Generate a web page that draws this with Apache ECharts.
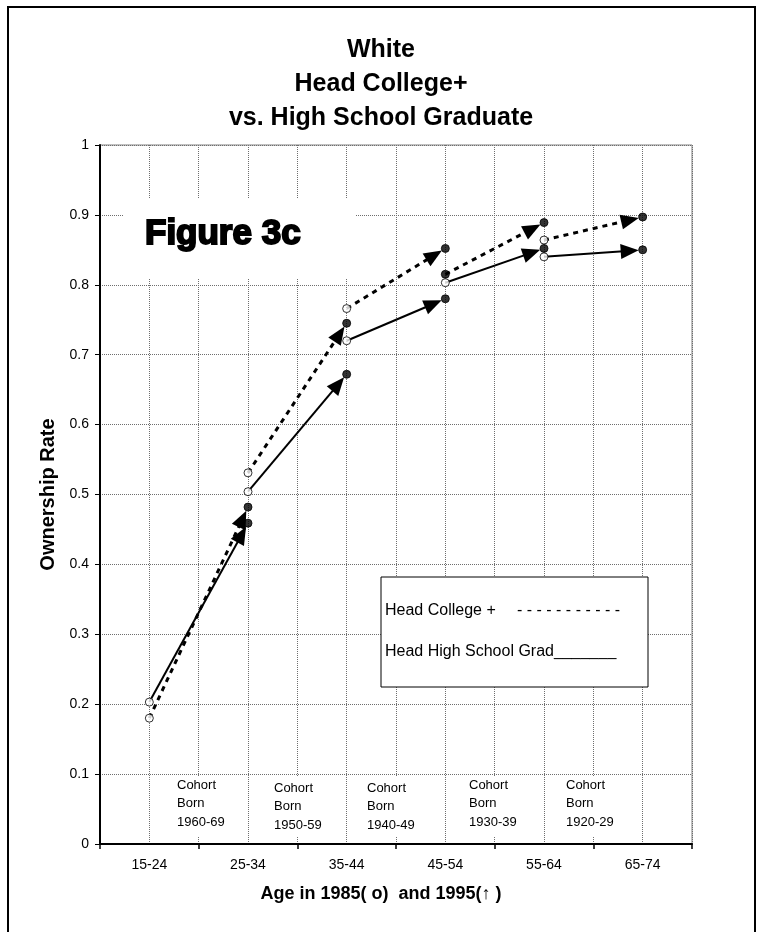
<!DOCTYPE html>
<html>
<head>
<meta charset="utf-8">
<script src="https://cdn.jsdelivr.net/npm/echarts@6/dist/echarts.min.js"></script>
<style>
html,body{margin:0;padding:0;background:#fff;}
#chart{width:762px;height:932px;}
</style>
</head>
<body>
<div id="chart"></div>
<script>
// ---- data ----
const ageGroups = ['15-24', '25-34', '35-44', '45-54', '55-64', '65-74'];
const cohorts = ['1960-69', '1950-59', '1940-49', '1930-39', '1920-29'];
// cohort i: 1985 value sits at ageGroups[i], 1995 value at ageGroups[i+1]
const college1985 = [0.180, 0.531, 0.766, 0.815, 0.864];
const college1995 = [0.482, 0.745, 0.852, 0.889, 0.897];
const hsGrad1985 = [0.203, 0.504, 0.720, 0.803, 0.840];
const hsGrad1995 = [0.459, 0.672, 0.780, 0.852, 0.850];
const titleLines = ['White', 'Head College+', 'vs. High School Graduate'];
const yAxisTitle = 'Ownership Rate';
const xAxisTitle = 'Age in 1985( o)  and 1995(\u2191 )';
const figureLabel = 'Figure 3c';
const legendCollege = 'Head College +';
const legendCollegeDash = '- - - - - - - - - - -';
const legendHs = 'Head High School Grad_______';

// ---- helpers ----
const FONT = '"Liberation Sans", Arial, Helvetica, sans-serif';
const xOf85 = i => i + 0.5;
const xOf95 = i => i + 1.5;

const collegeArrows = cohorts.map((c, i) => [xOf85(i), college1985[i], xOf95(i), college1995[i]]);
const hsArrows = cohorts.map((c, i) => [xOf85(i), hsGrad1985[i], xOf95(i), hsGrad1995[i]]);

function arrowRenderer(lineWidth, lineDash) {
  return function (params, api) {
    const p1 = api.coord([api.value(0), api.value(1)]);
    const p2 = api.coord([api.value(2), api.value(3)]);
    const dx = p2[0] - p1[0], dy = p2[1] - p1[1];
    const L = Math.sqrt(dx * dx + dy * dy) || 1;
    const ux = dx / L, uy = dy / L;
    const gap = 4, len = 18, hw = 7.5;
    const tip = [p2[0] - ux * gap, p2[1] - uy * gap];
    const base = [tip[0] - ux * len, tip[1] - uy * len];
    const left = [base[0] - uy * hw, base[1] + ux * hw];
    const right = [base[0] + uy * hw, base[1] - ux * hw];
    const lineEnd = [tip[0] - ux * 8, tip[1] - uy * 8];
    return {
      type: 'group',
      children: [
        { type: 'line', shape: { x1: p1[0], y1: p1[1], x2: lineEnd[0], y2: lineEnd[1] },
          style: { stroke: '#000', lineWidth: lineWidth, lineDash: lineDash, lineCap: 'butt' } },
        { type: 'polygon', shape: { points: [tip, left, right] }, style: { fill: '#000' } }
      ]
    };
  };
}

const openPts = [];
const filledPts = [];
cohorts.forEach((c, i) => {
  // the 45-54 college 1985 marker is drawn solid in the reference
  (i === 3 ? filledPts : openPts).push([xOf85(i), college1985[i]]);
  openPts.push([xOf85(i), hsGrad1985[i]]);
  filledPts.push([xOf95(i), college1995[i]]);
  filledPts.push([xOf95(i), hsGrad1995[i]]);
});

const gridDot = { color: '#6e6e6e', width: 1, type: [1, 1] };

const cohortPos = [
  { x: 177, y: 776 }, { x: 274, y: 779 }, { x: 367, y: 779 }, { x: 469, y: 776 }, { x: 566, y: 776 }
];

const graphics = [
  { type: 'rect', z: 0, shape: { x: 8, y: 7, width: 747, height: 945 },
    style: { fill: 'none', stroke: '#000', lineWidth: 2 } },
  { type: 'rect', z: 1, shape: { x: 123, y: 198, width: 233, height: 80 },
    style: { fill: '#fff', stroke: 'none' } },
  { type: 'text', z: 2, x: 145, y: 234,
    style: { text: figureLabel, fill: '#000', stroke: '#000', lineWidth: 2, lineJoin: 'round',
             font: 'bold 35px ' + FONT, textAlign: 'left', textVerticalAlign: 'middle' } },
  { type: 'rect', z: 1, shape: { x: 381, y: 577, width: 267, height: 110 },
    style: { fill: '#fff', stroke: '#000', lineWidth: 1 } },
  { type: 'text', z: 2, x: 385, y: 611,
    style: { text: legendCollege, fill: '#000', font: '16px ' + FONT, textAlign: 'left', textVerticalAlign: 'middle' } },
  { type: 'text', z: 2, x: 517, y: 611,
    style: { text: legendCollegeDash, fill: '#000', font: '16px ' + FONT, textAlign: 'left', textVerticalAlign: 'middle' } },
  { type: 'text', z: 2, x: 385, y: 652,
    style: { text: legendHs, fill: '#000', font: '16px ' + FONT, textAlign: 'left', textVerticalAlign: 'middle' } },
  { type: 'text', z: 2, x: 381, y: 894,
    style: { text: xAxisTitle, fill: '#000', font: 'bold 18px ' + FONT, textAlign: 'center', textVerticalAlign: 'middle' } }
];
cohorts.forEach((c, i) => {
  const p = cohortPos[i];
  graphics.push({ type: 'rect', z: 1, shape: { x: p.x - 5, y: 777, width: 54, height: 59 },
    style: { fill: '#fff', stroke: 'none' } });
  graphics.push({ type: 'text', z: 2, x: p.x, y: p.y,
    style: { text: 'Cohort\nBorn\n' + c, fill: '#000', font: '13px ' + FONT, lineHeight: 18.5,
             textAlign: 'left', textVerticalAlign: 'top' } });
});

const chart = echarts.init(document.getElementById('chart'), null, { renderer: 'canvas' });
chart.setOption({
  animation: false,
  backgroundColor: '#fff',
  title: {
    text: titleLines.join('\n'),
    left: 'center',
    top: 28,
    textStyle: { fontFamily: FONT, fontSize: 25, fontWeight: 'bold', color: '#000', lineHeight: 34 }
  },
  grid: { left: 100, top: 145, width: 592, height: 699, containLabel: false, outerBoundsMode: 'none',
          show: true, borderColor: '#808080', borderWidth: 1, backgroundColor: 'transparent' },
  xAxis: [
    {
      type: 'value', min: 0, max: 6, interval: 0.5, position: 'bottom',
      axisLine: { show: true, onZero: false, lineStyle: { color: '#000', width: 2 } },
      axisTick: { show: false },
      axisLabel: {
        color: '#000', fontSize: 14, fontFamily: FONT, margin: 14,
        formatter: v => { const k = Math.round(v * 2); return k % 2 === 1 ? ageGroups[(k - 1) / 2] : ''; }
      },
      splitLine: { show: true, lineStyle: gridDot }
    },
    {
      type: 'value', min: 0, max: 6, interval: 1, position: 'bottom',
      axisLine: { show: false, onZero: false },
      axisTick: { show: true, length: 5, lineStyle: { color: '#000', width: 1.5 } },
      axisLabel: { show: false },
      splitLine: { show: false }
    }
  ],
  yAxis: {
    type: 'value', min: 0, max: 1, interval: 0.1,
    axisLine: { show: true, lineStyle: { color: '#000', width: 2 } },
    axisTick: { show: true, length: 5, lineStyle: { color: '#000', width: 1 } },
    axisLabel: { color: '#000', fontSize: 14, fontFamily: FONT, margin: 11,
                 formatter: v => String(Math.round(v * 10) / 10) },
    splitLine: { show: true, lineStyle: gridDot },
    name: yAxisTitle, nameLocation: 'middle', nameGap: 35, nameRotate: 90,
    nameTextStyle: { fontFamily: FONT, fontSize: 20, fontWeight: 'bold', color: '#000' }
  },
  graphic: graphics,
  series: [
    { name: 'Head College +', type: 'custom', xAxisIndex: 0, yAxisIndex: 0, z: 3,
      encode: { x: [0, 2], y: [1, 3] }, data: collegeArrows,
      renderItem: arrowRenderer(3, [5, 5]) },
    { name: 'Head High School Grad', type: 'custom', xAxisIndex: 0, yAxisIndex: 0, z: 3,
      encode: { x: [0, 2], y: [1, 3] }, data: hsArrows,
      renderItem: arrowRenderer(2, null) },
    { name: '1985', type: 'scatter', xAxisIndex: 0, yAxisIndex: 0, z: 4, symbol: 'circle', symbolSize: 8,
      itemStyle: { color: '#fff', borderColor: '#000', borderWidth: 1 }, data: openPts },
    { name: '1995', type: 'scatter', xAxisIndex: 0, yAxisIndex: 0, z: 4, symbol: 'circle', symbolSize: 8,
      itemStyle: { color: '#000', borderColor: '#000', borderWidth: 1 }, data: filledPts }
  ]
});
</script>
</body>
</html>
